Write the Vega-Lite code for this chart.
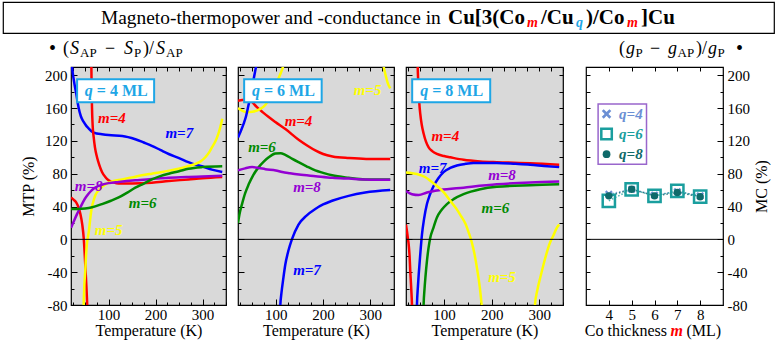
{
"$schema": "https://vega.github.io/schema/vega-lite/v6.json",
"padding": {"left": 2, "top": 1, "right": 0, "bottom": 0},
"datasets": {
"curves": [
{"q":4,"m":7,"b":1,"T":19,"v":240},{"q":4,"m":7,"b":1,"T":20,"v":225},{"q":4,"m":7,"b":1,"T":22,"v":211},{"q":4,"m":7,"b":1,"T":26,"v":194},{"q":4,"m":7,"b":1,"T":31,"v":178},{"q":4,"m":7,"b":1,"T":36,"v":161},{"q":4,"m":7,"b":1,"T":41,"v":150},{"q":4,"m":7,"b":1,"T":47,"v":143},{"q":4,"m":7,"b":1,"T":53,"v":138},{"q":4,"m":7,"b":1,"T":58,"v":135},{"q":4,"m":7,"b":1,"T":65,"v":131},{"q":4,"m":7,"b":1,"T":75,"v":129},{"q":4,"m":7,"b":1,"T":86,"v":128},{"q":4,"m":7,"b":1,"T":100,"v":127},{"q":4,"m":7,"b":1,"T":129,"v":126},{"q":4,"m":7,"b":1,"T":157,"v":122},{"q":4,"m":7,"b":1,"T":175,"v":118},{"q":4,"m":7,"b":1,"T":192,"v":114},{"q":4,"m":7,"b":1,"T":210,"v":109},{"q":4,"m":7,"b":1,"T":228,"v":104},{"q":4,"m":7,"b":1,"T":250,"v":99},{"q":4,"m":7,"b":1,"T":270,"v":94},{"q":4,"m":7,"b":1,"T":285,"v":91},{"q":4,"m":7,"b":1,"T":299,"v":89},{"q":4,"m":7,"b":1,"T":320,"v":85},{"q":4,"m":7,"b":1,"T":342,"v":82},
{"q":4,"m":4,"b":1,"T":20,"v":51},{"q":4,"m":4,"b":1,"T":26,"v":48},{"q":4,"m":4,"b":1,"T":31,"v":45},{"q":4,"m":4,"b":1,"T":36,"v":39},{"q":4,"m":4,"b":1,"T":40,"v":31},{"q":4,"m":4,"b":1,"T":44,"v":18},{"q":4,"m":4,"b":1,"T":47,"v":2},{"q":4,"m":4,"b":1,"T":49,"v":-16},{"q":4,"m":4,"b":1,"T":51,"v":-38},{"q":4,"m":4,"b":1,"T":53,"v":-60},{"q":4,"m":4,"b":1,"T":54.5,"v":-80},{"q":4,"m":4,"b":1,"T":56,"v":-115},
{"q":4,"m":4,"b":2,"T":62.5,"v":280},{"q":4,"m":4,"b":2,"T":63.3,"v":215},{"q":4,"m":4,"b":2,"T":64.7,"v":161},{"q":4,"m":4,"b":2,"T":66,"v":140},{"q":4,"m":4,"b":2,"T":68.3,"v":124.5},{"q":4,"m":4,"b":2,"T":71,"v":112},{"q":4,"m":4,"b":2,"T":75.4,"v":100},{"q":4,"m":4,"b":2,"T":80,"v":91},{"q":4,"m":4,"b":2,"T":86,"v":82},{"q":4,"m":4,"b":2,"T":93,"v":76},{"q":4,"m":4,"b":2,"T":100,"v":72},{"q":4,"m":4,"b":2,"T":110,"v":69.5},{"q":4,"m":4,"b":2,"T":121.5,"v":68},{"q":4,"m":4,"b":2,"T":150,"v":68},{"q":4,"m":4,"b":2,"T":192,"v":69},{"q":4,"m":4,"b":2,"T":228,"v":71},{"q":4,"m":4,"b":2,"T":270,"v":73},{"q":4,"m":4,"b":2,"T":300,"v":74.5},{"q":4,"m":4,"b":2,"T":342,"v":76},
{"q":4,"m":5,"b":1,"T":46,"v":-110},{"q":4,"m":5,"b":1,"T":47,"v":-80},{"q":4,"m":5,"b":1,"T":48.5,"v":-55},{"q":4,"m":5,"b":1,"T":50.5,"v":-37},{"q":4,"m":5,"b":1,"T":52,"v":-20},{"q":4,"m":5,"b":1,"T":54,"v":-5},{"q":4,"m":5,"b":1,"T":56,"v":3},{"q":4,"m":5,"b":1,"T":57.6,"v":8},{"q":4,"m":5,"b":1,"T":60,"v":20},{"q":4,"m":5,"b":1,"T":62,"v":30},{"q":4,"m":5,"b":1,"T":64.7,"v":40},{"q":4,"m":5,"b":1,"T":68,"v":47},{"q":4,"m":5,"b":1,"T":72,"v":54},{"q":4,"m":5,"b":1,"T":79,"v":60},{"q":4,"m":5,"b":1,"T":86,"v":64},{"q":4,"m":5,"b":1,"T":96,"v":68},{"q":4,"m":5,"b":1,"T":107,"v":70.5},{"q":4,"m":5,"b":1,"T":129,"v":73},{"q":4,"m":5,"b":1,"T":150,"v":75.5},{"q":4,"m":5,"b":1,"T":171,"v":78},{"q":4,"m":5,"b":1,"T":192,"v":80},{"q":4,"m":5,"b":1,"T":214,"v":82},{"q":4,"m":5,"b":1,"T":232,"v":84},{"q":4,"m":5,"b":1,"T":249,"v":86},{"q":4,"m":5,"b":1,"T":268,"v":89},{"q":4,"m":5,"b":1,"T":285,"v":92},{"q":4,"m":5,"b":1,"T":296,"v":95},{"q":4,"m":5,"b":1,"T":306,"v":100},{"q":4,"m":5,"b":1,"T":314,"v":106},{"q":4,"m":5,"b":1,"T":320,"v":112},{"q":4,"m":5,"b":1,"T":328,"v":120},{"q":4,"m":5,"b":1,"T":334,"v":129},{"q":4,"m":5,"b":1,"T":338,"v":137},{"q":4,"m":5,"b":1,"T":342,"v":147},
{"q":4,"m":8,"b":1,"T":20,"v":14},{"q":4,"m":8,"b":1,"T":26,"v":22},{"q":4,"m":8,"b":1,"T":33,"v":31},{"q":4,"m":8,"b":1,"T":40,"v":39},{"q":4,"m":8,"b":1,"T":47,"v":47},{"q":4,"m":8,"b":1,"T":54,"v":53},{"q":4,"m":8,"b":1,"T":61,"v":58},{"q":4,"m":8,"b":1,"T":70,"v":62.5},{"q":4,"m":8,"b":1,"T":86,"v":66.5},{"q":4,"m":8,"b":1,"T":100,"v":68.5},{"q":4,"m":8,"b":1,"T":121.5,"v":70},{"q":4,"m":8,"b":1,"T":157,"v":72},{"q":4,"m":8,"b":1,"T":192,"v":73.5},{"q":4,"m":8,"b":1,"T":228,"v":75},{"q":4,"m":8,"b":1,"T":270,"v":76},{"q":4,"m":8,"b":1,"T":299,"v":76.5},{"q":4,"m":8,"b":1,"T":342,"v":77.5},
{"q":4,"m":6,"b":1,"T":20,"v":37},{"q":4,"m":6,"b":1,"T":35,"v":37},{"q":4,"m":6,"b":1,"T":50,"v":37.5},{"q":4,"m":6,"b":1,"T":65,"v":39},{"q":4,"m":6,"b":1,"T":86,"v":43},{"q":4,"m":6,"b":1,"T":105,"v":47},{"q":4,"m":6,"b":1,"T":121.5,"v":51},{"q":4,"m":6,"b":1,"T":140,"v":57},{"q":4,"m":6,"b":1,"T":157,"v":63},{"q":4,"m":6,"b":1,"T":175,"v":68},{"q":4,"m":6,"b":1,"T":192,"v":73},{"q":4,"m":6,"b":1,"T":210,"v":77},{"q":4,"m":6,"b":1,"T":228,"v":80},{"q":4,"m":6,"b":1,"T":250,"v":83},{"q":4,"m":6,"b":1,"T":270,"v":86},{"q":4,"m":6,"b":1,"T":299,"v":88},{"q":4,"m":6,"b":1,"T":342,"v":89},
{"q":6,"m":4,"b":1,"T":20,"v":169},{"q":6,"m":4,"b":1,"T":35,"v":170},{"q":6,"m":4,"b":1,"T":48,"v":168},{"q":6,"m":4,"b":1,"T":60,"v":161},{"q":6,"m":4,"b":1,"T":72,"v":155},{"q":6,"m":4,"b":1,"T":85,"v":149},{"q":6,"m":4,"b":1,"T":99,"v":143},{"q":6,"m":4,"b":1,"T":121,"v":134},{"q":6,"m":4,"b":1,"T":149,"v":121},{"q":6,"m":4,"b":1,"T":167,"v":114},{"q":6,"m":4,"b":1,"T":184.5,"v":108},{"q":6,"m":4,"b":1,"T":200,"v":104},{"q":6,"m":4,"b":1,"T":220,"v":101},{"q":6,"m":4,"b":1,"T":255,"v":99},{"q":6,"m":4,"b":1,"T":291,"v":98},{"q":6,"m":4,"b":1,"T":342,"v":98},
{"q":6,"m":5,"b":1,"T":20,"v":160},{"q":6,"m":5,"b":1,"T":25,"v":158},{"q":6,"m":5,"b":1,"T":32,"v":156},{"q":6,"m":5,"b":1,"T":40,"v":155},{"q":6,"m":5,"b":1,"T":50,"v":155.5},{"q":6,"m":5,"b":1,"T":60,"v":157},{"q":6,"m":5,"b":1,"T":70,"v":160},{"q":6,"m":5,"b":1,"T":78,"v":164},{"q":6,"m":5,"b":1,"T":85,"v":170},{"q":6,"m":5,"b":1,"T":95,"v":180},{"q":6,"m":5,"b":1,"T":105,"v":195},{"q":6,"m":5,"b":1,"T":112,"v":205},{"q":6,"m":5,"b":1,"T":116,"v":212},{"q":6,"m":5,"b":1,"T":120,"v":225},
{"q":6,"m":5,"b":2,"T":325,"v":260},{"q":6,"m":5,"b":2,"T":328,"v":212},{"q":6,"m":5,"b":2,"T":331,"v":203},{"q":6,"m":5,"b":2,"T":334,"v":196},{"q":6,"m":5,"b":2,"T":337,"v":190},{"q":6,"m":5,"b":2,"T":342,"v":184},
{"q":6,"m":7,"b":1,"T":20,"v":124},{"q":6,"m":7,"b":1,"T":26,"v":132},{"q":6,"m":7,"b":1,"T":32,"v":141},{"q":6,"m":7,"b":1,"T":37,"v":150},{"q":6,"m":7,"b":1,"T":42,"v":163},{"q":6,"m":7,"b":1,"T":47,"v":176},{"q":6,"m":7,"b":1,"T":52,"v":192},{"q":6,"m":7,"b":1,"T":56,"v":204},{"q":6,"m":7,"b":1,"T":60,"v":216},{"q":6,"m":7,"b":1,"T":64,"v":235},
{"q":6,"m":7,"b":2,"T":107,"v":-120},{"q":6,"m":7,"b":2,"T":109.5,"v":-80},{"q":6,"m":7,"b":2,"T":112,"v":-65},{"q":6,"m":7,"b":2,"T":116,"v":-47},{"q":6,"m":7,"b":2,"T":120,"v":-31},{"q":6,"m":7,"b":2,"T":127,"v":-13},{"q":6,"m":7,"b":2,"T":134,"v":0},{"q":6,"m":7,"b":2,"T":148,"v":18},{"q":6,"m":7,"b":2,"T":165,"v":29},{"q":6,"m":7,"b":2,"T":183.5,"v":37},{"q":6,"m":7,"b":2,"T":200,"v":42.5},{"q":6,"m":7,"b":2,"T":219,"v":47},{"q":6,"m":7,"b":2,"T":254,"v":53},{"q":6,"m":7,"b":2,"T":289,"v":57},{"q":6,"m":7,"b":2,"T":342,"v":60},
{"q":6,"m":6,"b":1,"T":20,"v":20},{"q":6,"m":6,"b":1,"T":24,"v":33},{"q":6,"m":6,"b":1,"T":28.5,"v":43},{"q":6,"m":6,"b":1,"T":35,"v":56},{"q":6,"m":6,"b":1,"T":42.6,"v":67},{"q":6,"m":6,"b":1,"T":52,"v":78},{"q":6,"m":6,"b":1,"T":63.8,"v":88},{"q":6,"m":6,"b":1,"T":75,"v":95},{"q":6,"m":6,"b":1,"T":85,"v":100},{"q":6,"m":6,"b":1,"T":99,"v":104.5},{"q":6,"m":6,"b":1,"T":110,"v":105},{"q":6,"m":6,"b":1,"T":120,"v":103},{"q":6,"m":6,"b":1,"T":135,"v":98},{"q":6,"m":6,"b":1,"T":148,"v":94},{"q":6,"m":6,"b":1,"T":165,"v":89},{"q":6,"m":6,"b":1,"T":183.5,"v":84},{"q":6,"m":6,"b":1,"T":200,"v":81},{"q":6,"m":6,"b":1,"T":219,"v":78},{"q":6,"m":6,"b":1,"T":254,"v":75},{"q":6,"m":6,"b":1,"T":289,"v":73},{"q":6,"m":6,"b":1,"T":342,"v":73},
{"q":6,"m":8,"b":1,"T":20,"v":84},{"q":6,"m":8,"b":1,"T":35,"v":86.5},{"q":6,"m":8,"b":1,"T":50,"v":88},{"q":6,"m":8,"b":1,"T":64,"v":87},{"q":6,"m":8,"b":1,"T":78,"v":85.5},{"q":6,"m":8,"b":1,"T":100,"v":84},{"q":6,"m":8,"b":1,"T":113.6,"v":82},{"q":6,"m":8,"b":1,"T":130,"v":80.5},{"q":6,"m":8,"b":1,"T":149,"v":79},{"q":6,"m":8,"b":1,"T":184,"v":77},{"q":6,"m":8,"b":1,"T":220,"v":75},{"q":6,"m":8,"b":1,"T":255,"v":74},{"q":6,"m":8,"b":1,"T":291,"v":73},{"q":6,"m":8,"b":1,"T":342,"v":72.5},
{"q":8,"m":4,"b":1,"T":20,"v":18},{"q":8,"m":4,"b":1,"T":22,"v":10},{"q":8,"m":4,"b":1,"T":24,"v":1},{"q":8,"m":4,"b":1,"T":25.6,"v":-6},{"q":8,"m":4,"b":1,"T":27.5,"v":-20},{"q":8,"m":4,"b":1,"T":29,"v":-39},{"q":8,"m":4,"b":1,"T":31,"v":-60},{"q":8,"m":4,"b":1,"T":32.6,"v":-80},{"q":8,"m":4,"b":1,"T":34,"v":-110},
{"q":8,"m":4,"b":2,"T":43.5,"v":260},{"q":8,"m":4,"b":2,"T":44.6,"v":211},{"q":8,"m":4,"b":2,"T":45.5,"v":195},{"q":8,"m":4,"b":2,"T":46.7,"v":182},{"q":8,"m":4,"b":2,"T":48,"v":166},{"q":8,"m":4,"b":2,"T":50,"v":153},{"q":8,"m":4,"b":2,"T":53,"v":140},{"q":8,"m":4,"b":2,"T":57,"v":129},{"q":8,"m":4,"b":2,"T":62,"v":119},{"q":8,"m":4,"b":2,"T":67.6,"v":112},{"q":8,"m":4,"b":2,"T":75,"v":107.5},{"q":8,"m":4,"b":2,"T":85,"v":104},{"q":8,"m":4,"b":2,"T":100,"v":101.5},{"q":8,"m":4,"b":2,"T":113,"v":100},{"q":8,"m":4,"b":2,"T":141,"v":97},{"q":8,"m":4,"b":2,"T":176,"v":95},{"q":8,"m":4,"b":2,"T":211,"v":94},{"q":8,"m":4,"b":2,"T":281,"v":92.8},{"q":8,"m":4,"b":2,"T":342,"v":91},
{"q":8,"m":7,"b":1,"T":41.5,"v":-120},{"q":8,"m":7,"b":1,"T":43,"v":-80},{"q":8,"m":7,"b":1,"T":45,"v":-58},{"q":8,"m":7,"b":1,"T":46.7,"v":-43},{"q":8,"m":7,"b":1,"T":50,"v":-18},{"q":8,"m":7,"b":1,"T":53.6,"v":6},{"q":8,"m":7,"b":1,"T":58,"v":25},{"q":8,"m":7,"b":1,"T":64,"v":43},{"q":8,"m":7,"b":1,"T":70,"v":54},{"q":8,"m":7,"b":1,"T":78,"v":65},{"q":8,"m":7,"b":1,"T":88,"v":74.5},{"q":8,"m":7,"b":1,"T":99,"v":82},{"q":8,"m":7,"b":1,"T":113,"v":87},{"q":8,"m":7,"b":1,"T":127,"v":90},{"q":8,"m":7,"b":1,"T":145,"v":92},{"q":8,"m":7,"b":1,"T":162,"v":93},{"q":8,"m":7,"b":1,"T":211,"v":93},{"q":8,"m":7,"b":1,"T":250,"v":92},{"q":8,"m":7,"b":1,"T":281,"v":91},{"q":8,"m":7,"b":1,"T":310,"v":89.5},{"q":8,"m":7,"b":1,"T":342,"v":88},
{"q":8,"m":8,"b":1,"T":20,"v":59},{"q":8,"m":8,"b":1,"T":32.6,"v":55},{"q":8,"m":8,"b":1,"T":46.7,"v":54},{"q":8,"m":8,"b":1,"T":64,"v":57},{"q":8,"m":8,"b":1,"T":92,"v":60},{"q":8,"m":8,"b":1,"T":141,"v":63},{"q":8,"m":8,"b":1,"T":211,"v":67},{"q":8,"m":8,"b":1,"T":281,"v":69.4},{"q":8,"m":8,"b":1,"T":342,"v":70.6},
{"q":8,"m":6,"b":1,"T":55.5,"v":-120},{"q":8,"m":6,"b":1,"T":57,"v":-80},{"q":8,"m":6,"b":1,"T":59,"v":-60},{"q":8,"m":6,"b":1,"T":61,"v":-45},{"q":8,"m":6,"b":1,"T":64,"v":-26.5},{"q":8,"m":6,"b":1,"T":67,"v":-12},{"q":8,"m":6,"b":1,"T":71,"v":2},{"q":8,"m":6,"b":1,"T":77,"v":13},{"q":8,"m":6,"b":1,"T":85,"v":26.6},{"q":8,"m":6,"b":1,"T":95,"v":36},{"q":8,"m":6,"b":1,"T":106,"v":43},{"q":8,"m":6,"b":1,"T":120,"v":49},{"q":8,"m":6,"b":1,"T":141,"v":55},{"q":8,"m":6,"b":1,"T":176,"v":61},{"q":8,"m":6,"b":1,"T":211,"v":64},{"q":8,"m":6,"b":1,"T":281,"v":66},{"q":8,"m":6,"b":1,"T":342,"v":67},
{"q":8,"m":5,"b":1,"T":20,"v":81.6},{"q":8,"m":5,"b":1,"T":43,"v":79.6},{"q":8,"m":5,"b":1,"T":60,"v":76},{"q":8,"m":5,"b":1,"T":71,"v":71.5},{"q":8,"m":5,"b":1,"T":85,"v":65},{"q":8,"m":5,"b":1,"T":100,"v":57},{"q":8,"m":5,"b":1,"T":113,"v":47},{"q":8,"m":5,"b":1,"T":125,"v":38},{"q":8,"m":5,"b":1,"T":135,"v":29},{"q":8,"m":5,"b":1,"T":145,"v":19},{"q":8,"m":5,"b":1,"T":152,"v":8},{"q":8,"m":5,"b":1,"T":158,"v":-3},{"q":8,"m":5,"b":1,"T":164,"v":-18},{"q":8,"m":5,"b":1,"T":170,"v":-38},{"q":8,"m":5,"b":1,"T":175,"v":-58},{"q":8,"m":5,"b":1,"T":179,"v":-80},{"q":8,"m":5,"b":1,"T":182,"v":-100},
{"q":8,"m":5,"b":2,"T":289,"v":-110},{"q":8,"m":5,"b":2,"T":291,"v":-80},{"q":8,"m":5,"b":2,"T":296,"v":-62},{"q":8,"m":5,"b":2,"T":302,"v":-47},{"q":8,"m":5,"b":2,"T":308,"v":-33},{"q":8,"m":5,"b":2,"T":315,"v":-18},{"q":8,"m":5,"b":2,"T":322,"v":-5},{"q":8,"m":5,"b":2,"T":330,"v":5},{"q":8,"m":5,"b":2,"T":337,"v":14},{"q":8,"m":5,"b":2,"T":342,"v":18}
],
"labels": [
{"q":4,"m":4,"T":107,"v":148,"t":"m=4"},{"q":4,"m":7,"T":250.6,"v":129.5,"t":"m=7"},{"q":4,"m":8,"T":57.6,"v":65.4,"t":"m=8"},{"q":4,"m":6,"T":172.6,"v":44,"t":"m=6"},{"q":4,"m":5,"T":100,"v":11,"t":"m=5"},
{"q":6,"m":5,"T":294,"v":181.8,"t":"m=5"},{"q":6,"m":4,"T":148,"v":143.8,"t":"m=4"},{"q":6,"m":6,"T":70.8,"v":113,"t":"m=6"},{"q":6,"m":8,"T":166,"v":63.3,"t":"m=8"},{"q":6,"m":7,"T":166,"v":-37.5,"t":"m=7"},
{"q":8,"m":4,"T":102.6,"v":125.8,"t":"m=4"},{"q":8,"m":7,"T":76,"v":86.6,"t":"m=7"},{"q":8,"m":8,"T":221.8,"v":78.5,"t":"m=8"},{"q":8,"m":6,"T":207.8,"v":38.8,"t":"m=6"},{"q":8,"m":5,"T":221.8,"v":-45.7,"t":"m=5"}
],
"mc": [
{"q":"q=4","m":4,"v":55},{"q":"q=4","m":5,"v":61},{"q":"q=4","m":6,"v":54},{"q":"q=4","m":7,"v":58},{"q":"q=4","m":8,"v":53},
{"q":"q=6","m":4,"v":47},{"q":"q=6","m":5,"v":61},{"q":"q=6","m":6,"v":53},{"q":"q=6","m":7,"v":59},{"q":"q=6","m":8,"v":52},
{"q":"q=8","m":4,"v":53},{"q":"q=8","m":5,"v":61},{"q":"q=8","m":6,"v":53},{"q":"q=8","m":7,"v":57},{"q":"q=8","m":8,"v":52}
]
},
"concat": [
{
"width": 771, "height": 31,
"view": {"stroke": "#000", "strokeWidth": 1.2, "fill": "#ffffff"},
"data": {"values": [{}]},
"layer": [
{"mark": {"type": "text", "text": "Magneto-thermopower and -conductance in", "align": "left", "dx": -287.5, "fontSize": 19.4}, "encoding": {}},
{"mark": {"type": "text", "text": "Cu[3(Co", "align": "left", "dx": 59.5, "fontSize": 21, "fontWeight": "bold"}, "encoding": {}},
{"mark": {"type": "text", "text": "m", "align": "left", "dx": 138.5, "dy": 5, "fontSize": 14, "fontWeight": "bold", "fontStyle": "italic", "color": "#ff0000"}, "encoding": {}},
{"mark": {"type": "text", "text": "/Cu", "align": "left", "dx": 152.5, "fontSize": 21, "fontWeight": "bold"}, "encoding": {}},
{"mark": {"type": "text", "text": "q", "align": "left", "dx": 187.5, "dy": 5, "fontSize": 14, "fontWeight": "bold", "fontStyle": "italic", "color": "#1ea6e6"}, "encoding": {}},
{"mark": {"type": "text", "text": ")/Co", "align": "left", "dx": 197.5, "fontSize": 21, "fontWeight": "bold"}, "encoding": {}},
{"mark": {"type": "text", "text": "m", "align": "left", "dx": 238.5, "dy": 5, "fontSize": 14, "fontWeight": "bold", "fontStyle": "italic", "color": "#ff0000"}, "encoding": {}},
{"mark": {"type": "text", "text": "]Cu", "align": "left", "dx": 252.5, "fontSize": 21, "fontWeight": "bold"}, "encoding": {}}
]
},
{
"width": 771, "height": 20,
"view": {"stroke": null, "fill": null},
"data": {"values": [{}]},
"layer": [
{"mark": {"type": "text", "text": "•", "align": "left", "dx": -339.5, "fontSize": 20}, "encoding": {}},
{"mark": {"type": "text", "text": "(", "align": "left", "dx": -325.5, "fontSize": 18}, "encoding": {}},
{"mark": {"type": "text", "text": "S", "align": "left", "dx": -318.5, "fontSize": 18, "fontStyle": "italic"}, "encoding": {}},
{"mark": {"type": "text", "text": "AP", "align": "left", "dx": -308.5, "dy": 4, "fontSize": 13}, "encoding": {}},
{"mark": {"type": "text", "text": "−", "align": "left", "dx": -283.5, "fontSize": 18}, "encoding": {}},
{"mark": {"type": "text", "text": "S", "align": "left", "dx": -264.5, "fontSize": 18, "fontStyle": "italic"}, "encoding": {}},
{"mark": {"type": "text", "text": "P", "align": "left", "dx": -254.5, "dy": 4, "fontSize": 13}, "encoding": {}},
{"mark": {"type": "text", "text": ")/", "align": "left", "dx": -245.5, "fontSize": 18}, "encoding": {}},
{"mark": {"type": "text", "text": "S", "align": "left", "dx": -232.5, "fontSize": 18, "fontStyle": "italic"}, "encoding": {}},
{"mark": {"type": "text", "text": "AP", "align": "left", "dx": -222.5, "dy": 4, "fontSize": 13}, "encoding": {}},
{"mark": {"type": "text", "text": "(", "align": "left", "dx": 230.5, "fontSize": 18}, "encoding": {}},
{"mark": {"type": "text", "text": "g", "align": "left", "dx": 237.5, "fontSize": 18, "fontStyle": "italic"}, "encoding": {}},
{"mark": {"type": "text", "text": "P", "align": "left", "dx": 247, "dy": 4, "fontSize": 13}, "encoding": {}},
{"mark": {"type": "text", "text": "−", "align": "left", "dx": 261.5, "fontSize": 18}, "encoding": {}},
{"mark": {"type": "text", "text": "g", "align": "left", "dx": 279.5, "fontSize": 18, "fontStyle": "italic"}, "encoding": {}},
{"mark": {"type": "text", "text": "AP", "align": "left", "dx": 289, "dy": 4, "fontSize": 13}, "encoding": {}},
{"mark": {"type": "text", "text": ")/", "align": "left", "dx": 307.5, "fontSize": 18}, "encoding": {}},
{"mark": {"type": "text", "text": "g", "align": "left", "dx": 319.5, "fontSize": 18, "fontStyle": "italic"}, "encoding": {}},
{"mark": {"type": "text", "text": "P", "align": "left", "dx": 329, "dy": 4, "fontSize": 13}, "encoding": {}},
{"mark": {"type": "text", "text": "•", "align": "left", "dx": 347.5, "fontSize": 20}, "encoding": {}}
]
},
{
"hconcat": [
{
"hconcat": [
{
"width": 8, "height": 238,
"view": {"stroke": null, "fill": null},
"data": {"values": [{}]},
"mark": {"type": "point", "opacity": 0},
"encoding": {}
},
{
"width": 155, "height": 238,
"layer": [
{"layer": [
{"data": {"name": "curves"}, "transform": [{"filter": "datum.q === 4"}],
 "mark": {"type": "line", "clip": true, "strokeWidth": 2.5, "interpolate": "monotone"},
 "encoding": {
  "x": {"field": "T", "type": "quantitative", "scale": {"domain": [20, 350], "nice": false, "zero": false},
        "axis": {"values": [100, 200, 300], "tickCount": 100, "format": "d", "tickSize": -6, "labelPadding": 8, "titlePadding": 0, "title": "Temperature (K)"}},
  "y": {"field": "v", "type": "quantitative", "scale": {"domain": [-80, 210], "nice": false, "zero": false},
        "axis": {"values": [-80,-40,0,40,80,120,160,200], "tickCount": 100, "labelExpr": "'' + datum.value", "labelOverlap": false, "tickSize": -6, "labelPadding": 10, "title": "MTP (%)", "titlePadding": 8}},
  "color": {"field": "m", "type": "nominal", "scale": {"domain": [4,5,6,7,8], "range": ["#ff0000","#ffff00","#008a00","#0000ff","#9400d3"]}, "legend": null},
  "detail": {"field": "b", "type": "nominal"}
 }},
{"data": {"values": [{}]}, "mark": {"type": "rule", "color": "#000", "strokeWidth": 1}, "encoding": {"y": {"datum": 0}}},
{"data": {"name": "labels"}, "transform": [{"filter": "datum.q === 4"}],
 "mark": {"type": "text", "fontSize": 15, "fontWeight": "bold", "fontStyle": "italic"},
 "encoding": {"x": {"field": "T", "type": "quantitative"}, "y": {"field": "v", "type": "quantitative"}, "text": {"field": "t"}, "color": {"field": "m", "type": "nominal", "legend": null}}},
{"data": {"values": [{}]}, "mark": {"type": "rect", "fill": "#ffffff", "stroke": "#1ea6e6", "strokeWidth": 2},
 "encoding": {"x": {"datum": 33}, "x2": {"datum": 197}, "y": {"datum": 167}, "y2": {"datum": 195}}},
{"data": {"values": [{}]}, "mark": {"type": "text", "text": "= 4 ML", "align": "left", "fontSize": 16, "fontWeight": "bold", "color": "#1ea6e6"},
 "encoding": {"x": {"datum": 75}, "y": {"datum": 181}}},
{"data": {"values": [{}]}, "mark": {"type": "text", "text": "q", "align": "right", "dx": -4, "fontSize": 16, "fontWeight": "bold", "fontStyle": "italic", "color": "#1ea6e6"},
 "encoding": {"x": {"datum": 75}, "y": {"datum": 181}}}
]},
{"data": {"values": [{}]}, "mark": {"type": "point", "opacity": 0},
 "encoding": {
  "x": {"datum": 100, "type": "quantitative", "scale": {"domain": [20, 350], "nice": false, "zero": false}, "axis": {"orient": "top", "values": [25,50,75,100,125,150,175,200,225,250,275,300,325,350], "tickCount": 100, "labels": false, "title": null}},
  "y": {"datum": 0, "type": "quantitative", "scale": {"domain": [-80, 210], "nice": false, "zero": false}, "axis": {"orient": "right", "values": [-80,-60,-40,-20,0,20,40,60,80,100,120,140,160,180,200], "tickCount": 100, "labels": false, "title": null}}
 }},
{"data": {"values": [{}]}, "mark": {"type": "point", "opacity": 0},
 "encoding": {
  "x": {"datum": 100, "type": "quantitative", "scale": {"domain": [20, 350], "nice": false, "zero": false}, "axis": {"orient": "bottom", "values": [25,50,75,125,150,175,225,250,275,325,350], "tickCount": 100, "labels": false, "title": null, "tickSize": -3}},
  "y": {"datum": 0, "type": "quantitative", "scale": {"domain": [-80, 210], "nice": false, "zero": false}, "axis": {"orient": "left", "values": [-60,-20,20,60,100,140,180], "tickCount": 100, "labels": false, "title": null, "tickSize": -3}}
 }}
],
"resolve": {"scale": {"x": "independent", "y": "independent"}}
},
{
"width": 156, "height": 238,
"layer": [
{"layer": [
{"data": {"name": "curves"}, "transform": [{"filter": "datum.q === 6"}],
 "mark": {"type": "line", "clip": true, "strokeWidth": 2.5, "interpolate": "monotone"},
 "encoding": {
  "x": {"field": "T", "type": "quantitative", "scale": {"domain": [20, 350], "nice": false, "zero": false},
        "axis": {"values": [100, 200, 300], "tickCount": 100, "format": "d", "tickSize": -6, "labelPadding": 8, "titlePadding": 0, "title": "Temperature (K)"}},
  "y": {"field": "v", "type": "quantitative", "scale": {"domain": [-80, 210], "nice": false, "zero": false},
        "axis": {"values": [-80,-40,0,40,80,120,160,200], "tickCount": 100, "tickSize": -6, "labels": false, "title": null}},
  "color": {"field": "m", "type": "nominal", "scale": {"domain": [4,5,6,7,8], "range": ["#ff0000","#ffff00","#008a00","#0000ff","#9400d3"]}, "legend": null},
  "detail": {"field": "b", "type": "nominal"}
 }},
{"data": {"values": [{}]}, "mark": {"type": "rule", "color": "#000", "strokeWidth": 1}, "encoding": {"y": {"datum": 0}}},
{"data": {"name": "labels"}, "transform": [{"filter": "datum.q === 6"}],
 "mark": {"type": "text", "fontSize": 15, "fontWeight": "bold", "fontStyle": "italic"},
 "encoding": {"x": {"field": "T", "type": "quantitative"}, "y": {"field": "v", "type": "quantitative"}, "text": {"field": "t"}, "color": {"field": "m", "type": "nominal", "legend": null}}},
{"data": {"values": [{}]}, "mark": {"type": "rect", "fill": "#ffffff", "stroke": "#1ea6e6", "strokeWidth": 2},
 "encoding": {"x": {"datum": 33}, "x2": {"datum": 197}, "y": {"datum": 167}, "y2": {"datum": 195}}},
{"data": {"values": [{}]}, "mark": {"type": "text", "text": "= 6 ML", "align": "left", "fontSize": 16, "fontWeight": "bold", "color": "#1ea6e6"},
 "encoding": {"x": {"datum": 75}, "y": {"datum": 181}}},
{"data": {"values": [{}]}, "mark": {"type": "text", "text": "q", "align": "right", "dx": -4, "fontSize": 16, "fontWeight": "bold", "fontStyle": "italic", "color": "#1ea6e6"},
 "encoding": {"x": {"datum": 75}, "y": {"datum": 181}}}
]},
{"data": {"values": [{}]}, "mark": {"type": "point", "opacity": 0},
 "encoding": {
  "x": {"datum": 100, "type": "quantitative", "scale": {"domain": [20, 350], "nice": false, "zero": false}, "axis": {"orient": "top", "values": [25,50,75,100,125,150,175,200,225,250,275,300,325,350], "tickCount": 100, "labels": false, "title": null}},
  "y": {"datum": 0, "type": "quantitative", "scale": {"domain": [-80, 210], "nice": false, "zero": false}, "axis": {"orient": "right", "values": [-80,-60,-40,-20,0,20,40,60,80,100,120,140,160,180,200], "tickCount": 100, "labels": false, "title": null}}
 }},
{"data": {"values": [{}]}, "mark": {"type": "point", "opacity": 0},
 "encoding": {
  "x": {"datum": 100, "type": "quantitative", "scale": {"domain": [20, 350], "nice": false, "zero": false}, "axis": {"orient": "bottom", "values": [25,50,75,125,150,175,225,250,275,325,350], "tickCount": 100, "labels": false, "title": null, "tickSize": -3}},
  "y": {"datum": 0, "type": "quantitative", "scale": {"domain": [-80, 210], "nice": false, "zero": false}, "axis": {"orient": "left", "values": [-60,-20,20,60,100,140,180], "tickCount": 100, "labels": false, "title": null, "tickSize": -3}}
 }}
],
"resolve": {"scale": {"x": "independent", "y": "independent"}}
},
{
"width": 157, "height": 238,
"layer": [
{"layer": [
{"data": {"name": "curves"}, "transform": [{"filter": "datum.q === 8"}],
 "mark": {"type": "line", "clip": true, "strokeWidth": 2.5, "interpolate": "monotone"},
 "encoding": {
  "x": {"field": "T", "type": "quantitative", "scale": {"domain": [20, 350], "nice": false, "zero": false},
        "axis": {"values": [100, 200, 300], "tickCount": 100, "format": "d", "tickSize": -6, "labelPadding": 8, "titlePadding": 0, "title": "Temperature (K)"}},
  "y": {"field": "v", "type": "quantitative", "scale": {"domain": [-80, 210], "nice": false, "zero": false},
        "axis": {"values": [-80,-40,0,40,80,120,160,200], "tickCount": 100, "tickSize": -6, "labels": false, "title": null}},
  "color": {"field": "m", "type": "nominal", "scale": {"domain": [4,5,6,7,8], "range": ["#ff0000","#ffff00","#008a00","#0000ff","#9400d3"]}, "legend": null},
  "detail": {"field": "b", "type": "nominal"}
 }},
{"data": {"values": [{}]}, "mark": {"type": "rule", "color": "#000", "strokeWidth": 1}, "encoding": {"y": {"datum": 0}}},
{"data": {"name": "labels"}, "transform": [{"filter": "datum.q === 8"}],
 "mark": {"type": "text", "fontSize": 15, "fontWeight": "bold", "fontStyle": "italic"},
 "encoding": {"x": {"field": "T", "type": "quantitative"}, "y": {"field": "v", "type": "quantitative"}, "text": {"field": "t"}, "color": {"field": "m", "type": "nominal", "legend": null}}},
{"data": {"values": [{}]}, "mark": {"type": "rect", "fill": "#ffffff", "stroke": "#1ea6e6", "strokeWidth": 2},
 "encoding": {"x": {"datum": 33}, "x2": {"datum": 197}, "y": {"datum": 167}, "y2": {"datum": 195}}},
{"data": {"values": [{}]}, "mark": {"type": "text", "text": "= 8 ML", "align": "left", "fontSize": 16, "fontWeight": "bold", "color": "#1ea6e6"},
 "encoding": {"x": {"datum": 75}, "y": {"datum": 181}}},
{"data": {"values": [{}]}, "mark": {"type": "text", "text": "q", "align": "right", "dx": -4, "fontSize": 16, "fontWeight": "bold", "fontStyle": "italic", "color": "#1ea6e6"},
 "encoding": {"x": {"datum": 75}, "y": {"datum": 181}}}
]},
{"data": {"values": [{}]}, "mark": {"type": "point", "opacity": 0},
 "encoding": {
  "x": {"datum": 100, "type": "quantitative", "scale": {"domain": [20, 350], "nice": false, "zero": false}, "axis": {"orient": "top", "values": [25,50,75,100,125,150,175,200,225,250,275,300,325,350], "tickCount": 100, "labels": false, "title": null}},
  "y": {"datum": 0, "type": "quantitative", "scale": {"domain": [-80, 210], "nice": false, "zero": false}, "axis": {"orient": "right", "values": [-80,-60,-40,-20,0,20,40,60,80,100,120,140,160,180,200], "tickCount": 100, "labels": false, "title": null}}
 }},
{"data": {"values": [{}]}, "mark": {"type": "point", "opacity": 0},
 "encoding": {
  "x": {"datum": 100, "type": "quantitative", "scale": {"domain": [20, 350], "nice": false, "zero": false}, "axis": {"orient": "bottom", "values": [25,50,75,125,150,175,225,250,275,325,350], "tickCount": 100, "labels": false, "title": null, "tickSize": -3}},
  "y": {"datum": 0, "type": "quantitative", "scale": {"domain": [-80, 210], "nice": false, "zero": false}, "axis": {"orient": "left", "values": [-60,-20,20,60,100,140,180], "tickCount": 100, "labels": false, "title": null, "tickSize": -3}}
 }}
],
"resolve": {"scale": {"x": "independent", "y": "independent"}}
}
],
"spacing": 8
},
{
"width": 137, "height": 238,
"view": {"fill": "#ffffff"},
"layer": [
{"layer": [
{"data": {"values": [{}]}, "mark": {"type": "rule", "color": "#000", "strokeWidth": 1},
 "encoding": {"y": {"datum": 0, "type": "quantitative", "scale": {"domain": [-80, 210], "nice": false, "zero": false},
   "axis": {"orient": "right", "values": [-80,-40,0,40,80,120,160,200], "tickCount": 100, "labelExpr": "'' + datum.value", "labelOverlap": false, "tickSize": -6, "labelPadding": 10, "title": "MC (%)", "titleAngle": 270, "titleBaseline": "top", "titlePadding": 4}}}},
{"data": {"name": "mc"}, "mark": {"type": "line", "strokeWidth": 1.5, "strokeDash": [1.5, 2], "opacity": 0.8},
 "encoding": {
  "x": {"field": "m", "type": "quantitative", "scale": {"domain": [3, 9], "nice": false, "zero": false}, "axis": {"values": [4,5,6,7,8], "tickCount": 100, "format": "d", "tickSize": -5, "labelPadding": 7, "title": null}},
  "y": {"field": "v", "type": "quantitative"},
  "color": {"field": "q", "type": "nominal", "scale": {"domain": ["q=4","q=6","q=8"], "range": ["#6b8fd4","#1a9e9e","#0f6a6a"]}, "legend": null}
 }},
{"data": {"name": "mc"}, "transform": [{"filter": "datum.q === 'q=4'"}],
 "mark": {"type": "point", "filled": true, "opacity": 1, "size": 60, "shape": "M-1,-0.6L-0.6,-1L0,-0.4L0.6,-1L1,-0.6L0.4,0L1,0.6L0.6,1L0,0.4L-0.6,1L-1,0.6L-0.4,0Z"},
 "encoding": {
  "x": {"field": "m", "type": "quantitative"},
  "y": {"field": "v", "type": "quantitative"},
  "color": {"field": "q", "type": "nominal", "legend": null}
 }},
{"data": {"name": "mc"}, "transform": [{"filter": "datum.q === 'q=6'"}],
 "mark": {"type": "point", "filled": false, "opacity": 1, "size": 150, "strokeWidth": 2.5, "shape": "square"},
 "encoding": {
  "x": {"field": "m", "type": "quantitative"},
  "y": {"field": "v", "type": "quantitative"},
  "color": {"field": "q", "type": "nominal", "legend": null}
 }},
{"data": {"name": "mc"}, "transform": [{"filter": "datum.q === 'q=8'"}],
 "mark": {"type": "point", "filled": true, "opacity": 1, "size": 55, "shape": "circle"},
 "encoding": {
  "x": {"field": "m", "type": "quantitative"},
  "y": {"field": "v", "type": "quantitative"},
  "color": {"field": "q", "type": "nominal", "legend": null}
 }},
{"data": {"values": [{}]}, "mark": {"type": "rect", "fill": "#ffffff", "stroke": "#9966cc", "strokeWidth": 1.5},
 "encoding": {"x": {"datum": 3.53}, "x2": {"datum": 5.65}, "y": {"datum": 91.5}, "y2": {"datum": 165}}},
{"data": {"values": [{}]}, "mark": {"type": "point", "filled": true, "opacity": 1, "size": 90, "color": "#6b8fd4", "shape": "M-1,-0.6L-0.6,-1L0,-0.4L0.6,-1L1,-0.6L0.4,0L1,0.6L0.6,1L0,0.4L-0.6,1L-1,0.6L-0.4,0Z"},
 "encoding": {"x": {"datum": 3.9}, "y": {"datum": 152.8}}},
{"data": {"values": [{}]}, "mark": {"type": "point", "filled": false, "opacity": 1, "size": 110, "strokeWidth": 2.5, "color": "#1a9e9e", "shape": "square"},
 "encoding": {"x": {"datum": 3.9}, "y": {"datum": 128.3}}},
{"data": {"values": [{}]}, "mark": {"type": "point", "filled": true, "opacity": 1, "size": 60, "color": "#0f6a6a", "shape": "circle"},
 "encoding": {"x": {"datum": 3.9}, "y": {"datum": 103.8}}},
{"data": {"values": [{}]}, "mark": {"type": "text", "text": "q=4", "align": "left", "fontSize": 15, "fontWeight": "bold", "fontStyle": "italic", "color": "#6b8fd4"},
 "encoding": {"x": {"datum": 4.45}, "y": {"datum": 152.8}}},
{"data": {"values": [{}]}, "mark": {"type": "text", "text": "q=6", "align": "left", "fontSize": 15, "fontWeight": "bold", "fontStyle": "italic", "color": "#1a9e9e"},
 "encoding": {"x": {"datum": 4.45}, "y": {"datum": 128.3}}},
{"data": {"values": [{}]}, "mark": {"type": "text", "text": "q=8", "align": "left", "fontSize": 15, "fontWeight": "bold", "fontStyle": "italic", "color": "#0f6a6a"},
 "encoding": {"x": {"datum": 4.45}, "y": {"datum": 103.8}}},
{"data": {"values": [{}]}, "mark": {"type": "text", "text": "Co thickness", "align": "right", "fontSize": 16, "dx": 12.5, "dy": 145}, "encoding": {}},
{"data": {"values": [{}]}, "mark": {"type": "text", "text": "m", "align": "left", "color": "#ff0000", "fontWeight": "bold", "fontStyle": "italic", "fontSize": 16, "dx": 16, "dy": 145}, "encoding": {}},
{"data": {"values": [{}]}, "mark": {"type": "text", "text": "(ML)", "align": "left", "fontSize": 16, "dx": 32, "dy": 145}, "encoding": {}}
]},
{"data": {"values": [{}]}, "mark": {"type": "point", "opacity": 0},
 "encoding": {
  "x": {"datum": 6, "type": "quantitative", "scale": {"domain": [3, 9], "nice": false, "zero": false}, "axis": {"orient": "top", "values": [4,5,6,7,8], "tickCount": 100, "labels": false, "title": null}},
  "y": {"datum": 0, "type": "quantitative", "scale": {"domain": [-80, 210], "nice": false, "zero": false}, "axis": {"orient": "left", "values": [-80,-60,-40,-20,0,20,40,60,80,100,120,140,160,180,200], "tickCount": 100, "labels": false, "title": null}}
 }},
{"data": {"values": [{}]}, "mark": {"type": "point", "opacity": 0},
 "encoding": {
  "y": {"datum": 0, "type": "quantitative", "scale": {"domain": [-80, 210], "nice": false, "zero": false}, "axis": {"orient": "right", "values": [-60,-20,20,60,100,140,180], "tickCount": 100, "labels": false, "title": null, "tickSize": -3}}
 }}
],
"resolve": {"scale": {"x": "independent", "y": "independent"}}
}
],
"spacing": 19,
"resolve": {"scale": {"color": "independent"}}
}
],
"columns": 1,
"spacing": 5,
"config": {
"font": "Liberation Serif",
"view": {"stroke": "#000", "strokeWidth": 1.2, "fill": "#d9d9d9"},
"axis": {"domain": false, "grid": false, "tickColor": "#000", "tickSize": -4, "tickWidth": 1, "labelFont": "Liberation Serif", "labelFontSize": 15, "labelColor": "#000", "labelPadding": 8, "titleFont": "Liberation Serif", "titleFontSize": 16, "titleFontWeight": "normal", "titleColor": "#000", "titlePadding": 4},
"text": {"font": "Liberation Serif", "baseline": "middle"}
}
}
